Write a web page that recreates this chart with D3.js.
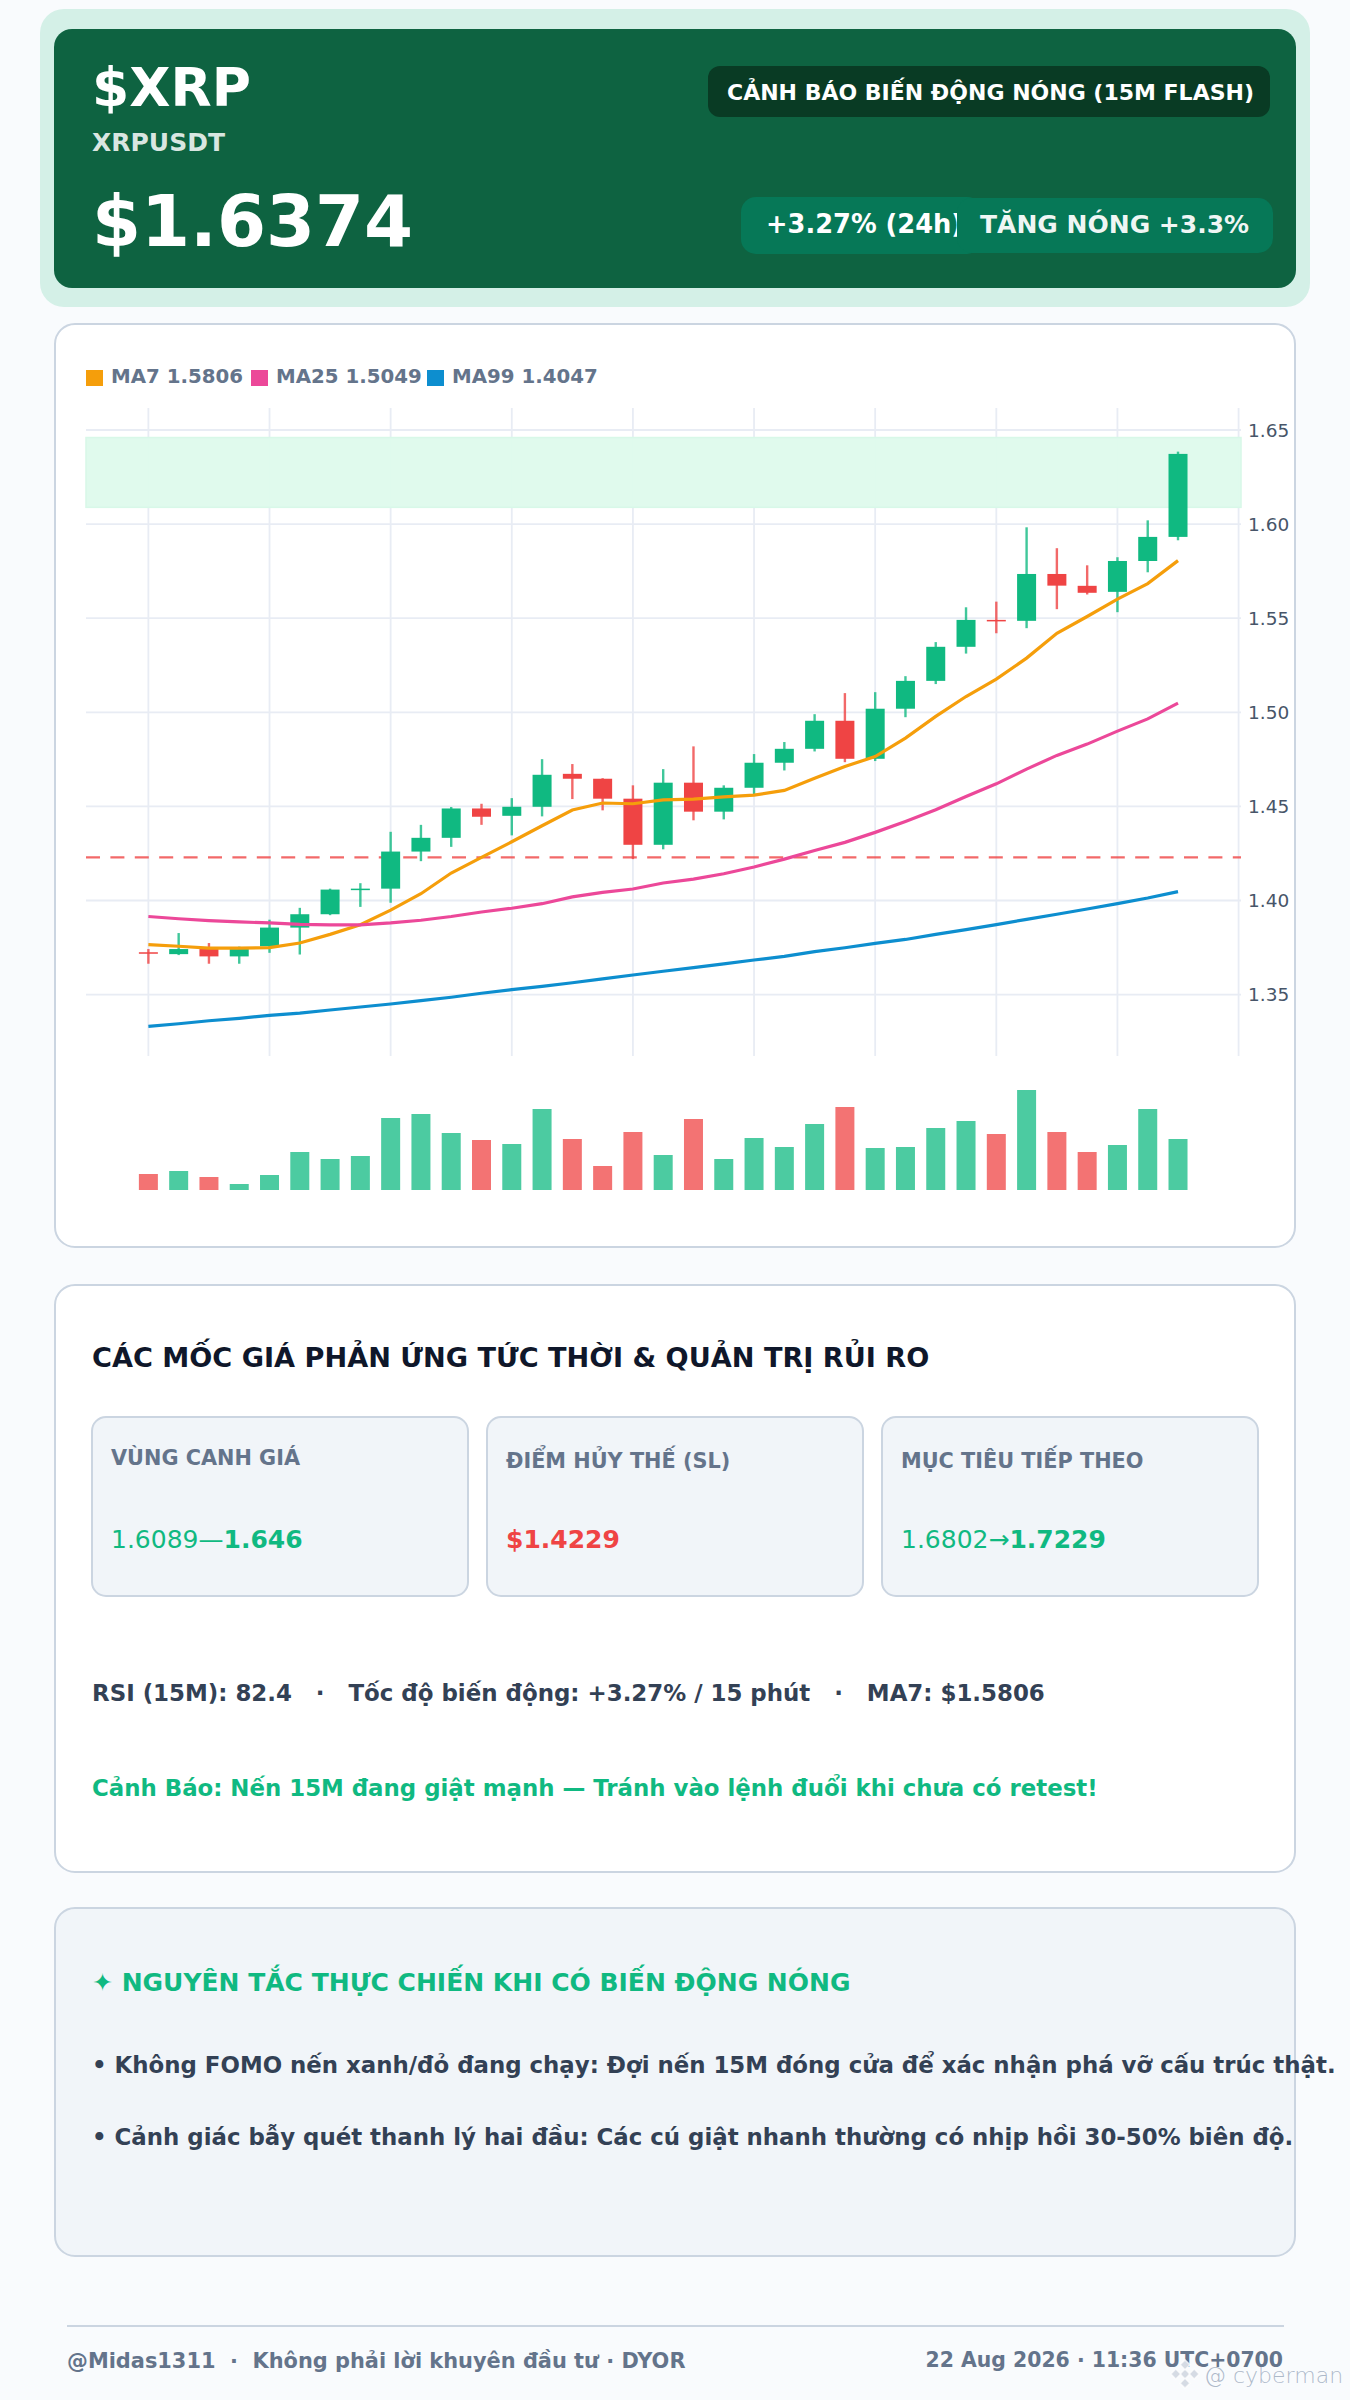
<!DOCTYPE html>
<html>
<head>
<meta charset="utf-8">
<title>XRPUSDT</title>
<script src="https://cdn.jsdelivr.net/npm/d3@7"></script>
<style>
  html, body { margin: 0; padding: 0; background: #f9fbfd; }
  svg { display: block; }
  text { font-family: "DejaVu Sans", sans-serif; }
</style>
</head>
<body>
<div id="chart"></div>
<script>
(function () {
  "use strict";

  // Candles. Index = 15 minute bar.
  var candleOpen = [1.3725, 1.3715, 1.3742, 1.3703, 1.3757, 1.3856, 1.3927, 1.4058, 1.4063, 1.4260, 1.4333, 1.4489,
    1.4450, 1.4498, 1.4673, 1.4647, 1.4541, 1.4296, 1.4626, 1.4472, 1.4599, 1.4732, 1.4806, 1.4955,
    1.4753, 1.5019, 1.5167, 1.5348, 1.5491, 1.5486, 1.5735, 1.5672, 1.5640, 1.5804, 1.5932];
  var candleClose = [1.3720, 1.3742, 1.3703, 1.3742, 1.3856, 1.3927, 1.4058, 1.4063, 1.4260, 1.4333, 1.4489, 1.4445,
    1.4498, 1.4668, 1.4647, 1.4541, 1.4296, 1.4626, 1.4472, 1.4599, 1.4732, 1.4806, 1.4955, 1.4753,
    1.5019, 1.5167, 1.5348, 1.5491, 1.5483, 1.5735, 1.5673, 1.5635, 1.5804, 1.5932, 1.6373];
  var candleHigh = [1.3742, 1.3827, 1.3774, 1.3755, 1.3898, 1.3961, 1.4063, 1.4092, 1.4365, 1.4402, 1.4497, 1.4514,
    1.4544, 1.4751, 1.4725, 1.4650, 1.4612, 1.4698, 1.4819, 1.4612, 1.4778, 1.4842, 1.4990, 1.5102,
    1.5107, 1.5192, 1.5373, 1.5558, 1.5588, 1.5983, 1.5872, 1.5781, 1.5824, 1.6020, 1.6385];
  var candleLow = [1.3664, 1.3710, 1.3664, 1.3664, 1.3722, 1.3713, 1.3922, 1.3966, 1.3988, 1.4209, 1.4285, 1.4402,
    1.4346, 1.4447, 1.4539, 1.4479, 1.4220, 1.4272, 1.4426, 1.4431, 1.4562, 1.4691, 1.4792, 1.4735,
    1.4741, 1.4974, 1.5150, 1.5312, 1.5420, 1.5447, 1.5548, 1.5626, 1.5532, 1.5744, 1.5914];

  var ma7 = [1.3766, 1.3757, 1.3747, 1.3747, 1.3750, 1.3774, 1.3820, 1.3871, 1.3949, 1.4036, 1.4146, 1.4229,
    1.4312, 1.4397, 1.4481, 1.4518, 1.4514, 1.4535, 1.4539, 1.4551, 1.4560, 1.4585, 1.4649, 1.4712,
    1.4765, 1.4863, 1.4978, 1.5084, 1.5176, 1.5288, 1.5420, 1.5509, 1.5601, 1.5684, 1.5806];
  var ma25 = [1.3915, 1.3903, 1.3893, 1.3886, 1.3881, 1.3873, 1.3871, 1.3871, 1.3881, 1.3895, 1.3915, 1.3939,
    1.3959, 1.3983, 1.4019, 1.4043, 1.4061, 1.4093, 1.4114, 1.4142, 1.4178, 1.4220, 1.4266, 1.4309,
    1.4362, 1.4420, 1.4482, 1.4553, 1.4620, 1.4698, 1.4771, 1.4831, 1.4900, 1.4965, 1.5049];
  var ma99 = [1.3331, 1.3345, 1.3361, 1.3374, 1.3390, 1.3402, 1.3418, 1.3434, 1.3450, 1.3468, 1.3486, 1.3507,
    1.3526, 1.3544, 1.3563, 1.3584, 1.3604, 1.3624, 1.3643, 1.3663, 1.3684, 1.3703, 1.3728, 1.3749,
    1.3772, 1.3793, 1.3820, 1.3845, 1.3872, 1.3900, 1.3927, 1.3955, 1.3983, 1.4013, 1.4047];

  // Volume has no printed scale, so it is in relative units (biggest bar = 100).
  var volumes = [16, 19, 13, 6, 15, 38, 31, 34, 72, 76, 57, 50, 46, 81, 51, 24, 58, 35, 71, 31, 52, 43, 66, 83,
    42, 43, 62, 69, 56, 100, 58, 38, 45, 81, 51];

  var priceTicks = [1.35, 1.40, 1.45, 1.50, 1.55, 1.60, 1.65];
  var gridBars = [0, 4, 8, 12, 16, 20, 24, 28, 32, 36];
  var entryZone = [1.6089, 1.646];
  var stopLevel = 1.4229;

  var legendNames = ["MA7", "MA25", "MA99"];
  var legendValues = ["1.5806", "1.5049", "1.4047"];
  var legendColors = ["#f59e0b", "#ec4899", "#0d8ecf"];

  var bullets = [
    "• Không FOMO nến xanh/đỏ đang chạy: Đợi nến 15M đóng cửa để xác nhận phá vỡ cấu trúc thật.",
    "• Cảnh giác bẫy quét thanh lý hai đầu: Các cú giật nhanh thường có nhịp hồi 30-50% biên độ."
  ];

  var GREEN = "#10b981";
  var RED = "#ef4444";
  var SLATE = "#64748b";
  var INK = "#334155";
  var EDGE = "#cbd5e1";
  var PANEL = "#f1f5f9";

  var svg = d3.select("#chart").append("svg")
    .attr("width", 1350)
    .attr("height", 2400);

  function box(x, y, w, h, r, fill, stroke) {
    return svg.append("rect")
      .attr("x", x).attr("y", y)
      .attr("width", w).attr("height", h)
      .attr("rx", r)
      .attr("fill", fill)
      .attr("stroke", stroke || "none")
      .attr("stroke-width", stroke ? 2 : 0);
  }

  function label(str, x, y, size, color, weight) {
    return svg.append("text")
      .attr("x", x).attr("y", y)
      .attr("font-size", size)
      .attr("font-weight", weight || "bold")
      .attr("fill", color)
      .text(str);
  }

  /* Header */
  box(40, 9, 1270, 298, 24, "#d4f0e7");
  box(54, 29, 1242, 259, 18, "#0e6341");
  label("$XRP", 92, 106, 53.5, "#ffffff");
  label("XRPUSDT", 92, 151, 25, "#ffffff").attr("fill-opacity", 0.85);
  label("$1.6374", 92, 246, 70.5, "#ffffff");
  box(708, 66, 562, 51, 12, "#093b24");
  label("CẢNH BÁO BIẾN ĐỘNG NÓNG (15M FLASH)", 727, 100, 22, "#ffffff");
  box(741, 197, 241, 57, 15, "#067857");
  label("+3.27% (24h)", 766, 233, 25.7, "#ffffff");
  // the second pill overlaps the first and hides its closing bracket, same as the original
  box(957, 198, 316, 55, 15, "#067857");
  label("TĂNG NÓNG +3.3%", 980, 233, 25, "#ffffff").attr("fill-opacity", 0.95);

  /* Chart card */
  box(55, 324, 1240, 923, 20, "#ffffff", EDGE);

  var plot = { left: 86, right: 1241, top: 408, bottom: 1056 };
  var x = d3.scaleLinear().domain([-2.06, 36.08]).range([plot.left, plot.right]);
  var y = d3.scaleLinear().domain([1.35, 1.65]).range([994.6, 430]);
  var volY = d3.scaleLinear().domain([0, 100]).range([1190, 1090]);

  // Legend
  var legendX = [86, 251, 427];
  legendNames.forEach(function (name, i) {
    box(legendX[i], 370, 17, 16, 0, legendColors[i]);
    label(name + " " + legendValues[i], legendX[i] + 25, 383, 19.8, SLATE);
  });

  // Grid + price axis
  var xGrid = svg.append("g")
    .attr("transform", "translate(0," + plot.bottom + ")")
    .call(d3.axisBottom(x).offset(0).tickValues(gridBars).tickFormat("").tickSize(-(plot.bottom - plot.top)));
  var yGrid = svg.append("g")
    .attr("transform", "translate(" + plot.right + ",0)")
    .call(d3.axisRight(y).offset(0).tickValues(priceTicks).tickFormat(d3.format(".2f"))
      .tickSize(-(plot.right - plot.left)).tickPadding(7));
  xGrid.select(".domain").remove();
  yGrid.select(".domain").remove();
  svg.selectAll(".tick line").attr("stroke", "#e8ecf4").attr("stroke-width", 1.8);
  yGrid.selectAll("text")
    .attr("font-size", 18.5)
    .attr("font-family", "DejaVu Sans")
    .attr("dy", "0.36em")
    .attr("fill", "#475569");

  // Entry zone sits over the grid
  svg.append("rect")
    .attr("x", plot.left)
    .attr("width", plot.right - plot.left)
    .attr("y", y(entryZone[1]))
    .attr("height", y(entryZone[0]) - y(entryZone[1]))
    .attr("fill", "#dffaec")
    .attr("fill-opacity", 0.96)
    .attr("stroke", "#d8f8e8")
    .attr("stroke-width", 1.5);

  // Stop level
  svg.append("line")
    .attr("x1", plot.left).attr("x2", plot.right)
    .attr("y1", y(stopLevel)).attr("y2", y(stopLevel))
    .attr("stroke", RED)
    .attr("stroke-opacity", 0.8)
    .attr("stroke-width", 2.4)
    .attr("stroke-dasharray", "14 10.4");

  var bars = d3.range(candleOpen.length);
  function barColor(i) {
    return candleClose[i] >= candleOpen[i] ? GREEN : RED;
  }

  // Wicks
  svg.append("g").selectAll("line")
    .data(bars)
    .enter().append("line")
    .attr("x1", function (i) { return x(i); })
    .attr("x2", function (i) { return x(i); })
    .attr("y1", function (i) { return y(candleHigh[i]); })
    .attr("y2", function (i) { return y(candleLow[i]); })
    .attr("stroke", barColor)
    .attr("stroke-opacity", 0.8)
    .attr("stroke-width", 2.4);

  // Bodies
  svg.append("g").selectAll("rect")
    .data(bars)
    .enter().append("rect")
    .attr("x", function (i) { return x(i) - 9.5; })
    .attr("width", 19)
    .attr("y", function (i) { return y(Math.max(candleOpen[i], candleClose[i])); })
    .attr("height", function (i) {
      return Math.max(Math.abs(y(candleOpen[i]) - y(candleClose[i])), 1.5);
    })
    .attr("fill", barColor);

  // Moving averages
  var maLine = d3.line()
    .x(function (d, i) { return x(i); })
    .y(function (d) { return y(d); });
  [ma7, ma25, ma99].forEach(function (series, i) {
    svg.append("path")
      .datum(series)
      .attr("d", maLine)
      .attr("fill", "none")
      .attr("stroke", legendColors[i])
      .attr("stroke-width", 3.2);
  });

  // Volume
  svg.append("g").selectAll("rect")
    .data(bars)
    .enter().append("rect")
    .attr("x", function (i) { return x(i) - 9.5; })
    .attr("width", 19)
    .attr("y", function (i) { return volY(volumes[i]); })
    .attr("height", function (i) { return volY(0) - volY(volumes[i]); })
    .attr("fill", barColor)
    .attr("fill-opacity", 0.75);

  /* Price levels card */
  box(55, 1285, 1240, 587, 20, "#ffffff", EDGE);
  label("CÁC MỐC GIÁ PHẢN ỨNG TỨC THỜI & QUẢN TRỊ RỦI RO", 92, 1367, 27.15, "#0f172a");

  box(92, 1417, 376, 179, 14, PANEL, EDGE);
  box(487, 1417, 376, 179, 14, PANEL, EDGE);
  box(882, 1417, 376, 179, 14, PANEL, EDGE);
  label("VÙNG CANH GIÁ", 111, 1465, 20.8, SLATE);
  label("ĐIỂM HỦY THẾ (SL)", 506, 1468, 20.8, SLATE);
  label("MỤC TIÊU TIẾP THEO", 901, 1468, 20.8, SLATE);

  var zoneValue = label("", 111, 1548, 25, GREEN, "normal");
  zoneValue.append("tspan").text("1.6089—");
  zoneValue.append("tspan").attr("font-weight", "bold").text("1.646");
  label("$1.4229", 506, 1548, 25, RED);
  var targetValue = label("", 901, 1548, 25, GREEN, "normal");
  targetValue.append("tspan").text("1.6802→");
  targetValue.append("tspan").attr("font-weight", "bold").text("1.7229");

  label("RSI (15M): 82.4\u00a0\u00a0\u00a0·\u00a0\u00a0\u00a0Tốc độ biến động: +3.27% / 15 phút\u00a0\u00a0\u00a0·\u00a0\u00a0\u00a0MA7: $1.5806",
    92, 1701, 22.92, INK);
  label("Cảnh Báo: Nến 15M đang giật mạnh — Tránh vào lệnh đuổi khi chưa có retest!", 92, 1796, 22.86, GREEN);

  /* Rules card */
  box(55, 1908, 1240, 348, 20, PANEL, EDGE);
  label("✦ NGUYÊN TẮC THỰC CHIẾN KHI CÓ BIẾN ĐỘNG NÓNG", 92, 1991, 25, GREEN);
  label(bullets[0], 92, 2073, 22.86, INK);
  label(bullets[1], 92, 2145, 22.86, INK);

  /* Footer */
  svg.append("line")
    .attr("x1", 67).attr("x2", 1284)
    .attr("y1", 2326).attr("y2", 2326)
    .attr("stroke", EDGE)
    .attr("stroke-width", 2);
  label("@Midas1311\u00a0\u00a0·\u00a0\u00a0Không phải lời khuyên đầu tư · DYOR", 67, 2368, 20.9, SLATE);
  label("22 Aug 2026 · 11:36 UTC+0700", 1283, 2367, 20.4, SLATE).attr("text-anchor", "end");

  // Watermark
  var mark = svg.append("g")
    .attr("transform", "translate(1185,2374) rotate(45)")
    .attr("fill", "#d5dbe4")
    .attr("stroke", "#ffffff")
    .attr("stroke-opacity", 0.7)
    .attr("stroke-width", 1.5);
  [[-3.5, -3.5, 7, 7], [-10, -10, 7, 7], [3, 3, 7, 7], [-10, 3, 7, 7], [3, -10, 7, 7]].forEach(function (r) {
    mark.append("rect").attr("x", r[0]).attr("y", r[1]).attr("width", r[2]).attr("height", r[3]);
  });
  label("@ cyberman", 1204, 2383, 22, "#94a3b8", "200").attr("fill-opacity", 0.75);
})();
</script>
</body>
</html>
